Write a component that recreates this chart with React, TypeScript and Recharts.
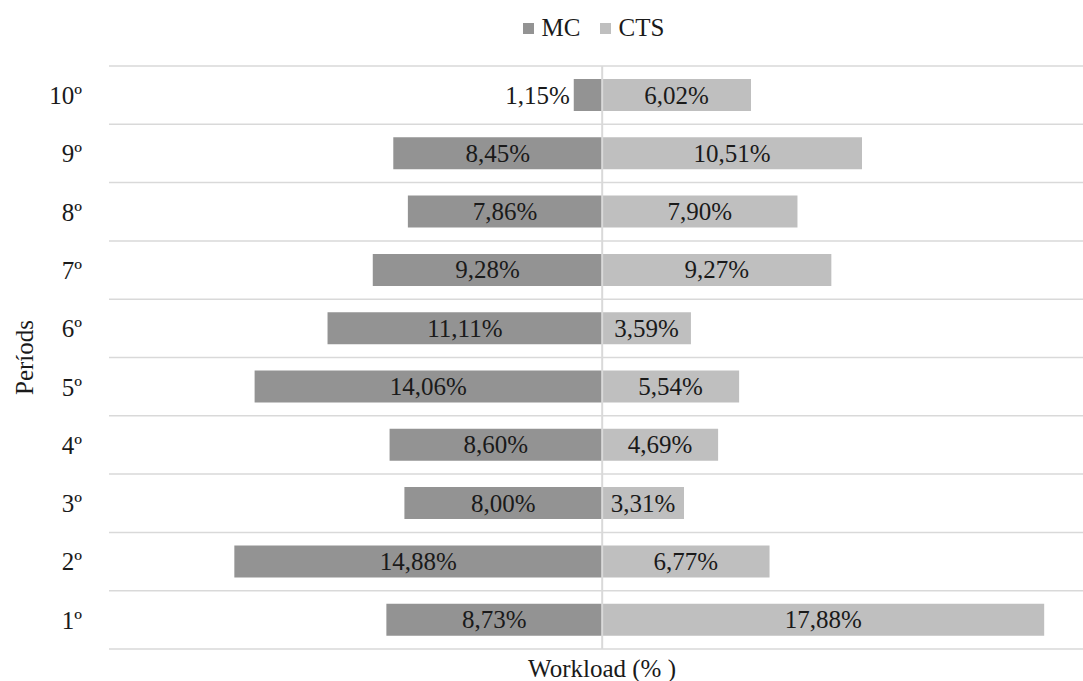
import {
  BarChart,
  Bar,
  XAxis,
  YAxis,
  CartesianGrid,
  Legend,
  LabelList,
  ReferenceLine,
  Label,
} from 'recharts';

const periods = ['1º', '2º', '3º', '4º', '5º', '6º', '7º', '8º', '9º', '10º'];
const mcWorkload = [8.73, 14.88, 8.0, 8.6, 14.06, 11.11, 9.28, 7.86, 8.45, 1.15];
const ctsWorkload = [17.88, 6.77, 3.31, 4.69, 5.54, 3.59, 9.27, 7.9, 10.51, 6.02];

const SERIES = [
  { key: 'mc', name: 'MC', color: '#939393' },
  { key: 'cts', name: 'CTS', color: '#bfbfbf' },
];

const FONT = '"Liberation Serif", "Times New Roman", serif';
const FONT_SIZE = 25;

const pct = (v: number) => v.toFixed(2).replace('.', ',') + '%';

// MC is drawn to the left of zero, CTS to the right
const rows = periods.map((period, i) => ({
  period,
  mc: -mcWorkload[i],
  cts: ctsWorkload[i],
  mcLabel: pct(mcWorkload[i]),
  ctsLabel: pct(ctsWorkload[i]),
}));

function BarValueLabel(props: any) {
  const { side, value } = props;
  const box = props.x != null ? props : props.viewBox;
  const { x, y, width, height } = box;
  const left = Math.min(x, x + width);
  const w = Math.abs(width);
  const cy = y + height / 2;
  const text = String(value);
  const approxWidth = text.length * 0.52 * FONT_SIZE;

  let tx = left + w / 2;
  let anchor: 'middle' | 'start' | 'end' = 'middle';
  if (approxWidth + 6 > w) {
    // too narrow, put the value just outside the bar end
    if (side === 'left') {
      tx = left - 4;
      anchor = 'end';
    } else {
      tx = left + w + 4;
      anchor = 'start';
    }
  }
  return (
    <text
      x={tx}
      y={cy}
      textAnchor={anchor}
      dominantBaseline="central"
      fontFamily={FONT}
      fontSize={FONT_SIZE}
      fill="#1a1a1a"
    >
      {text}
    </text>
  );
}

function LegendContent() {
  return (
    <div
      style={{
        height: 66,
        boxSizing: 'border-box',
        paddingTop: 14,
        paddingLeft: 104,
        display: 'flex',
        justifyContent: 'center',
        alignItems: 'flex-start',
        fontFamily: FONT,
        fontSize: FONT_SIZE,
        lineHeight: '28px',
        color: '#1a1a1a',
      }}
    >
      {SERIES.map((s, i) => (
        <span
          key={s.key}
          style={{ display: 'flex', alignItems: 'center', height: 28, marginLeft: i ? 19 : 0 }}
        >
          <span
            style={{ width: 11, height: 11, background: s.color, marginRight: 8, display: 'inline-block' }}
          />
          {s.name}
        </span>
      ))}
    </div>
  );
}

const bandLines = ({ offset }: any) =>
  Array.from(
    { length: periods.length + 1 },
    (_, i) => offset.top + (i * offset.height) / periods.length
  );

export default function App() {
  return (
    <div style={{ position: 'absolute', left: 0, top: 0, background: '#fff' }}>
      <BarChart
        width={1083}
        height={681}
        data={rows}
        layout="vertical"
        stackOffset="sign"
        margin={{ top: 0, right: 0, bottom: 0, left: 0 }}
      >
        <Legend
          verticalAlign="top"
          content={<LegendContent />}
          wrapperStyle={{ top: 0, left: 0, height: 66 }}
        />
        <CartesianGrid
          vertical={false}
          stroke="#d9d9d9"
          strokeWidth={1.5}
          horizontalCoordinatesGenerator={bandLines}
        />
        <XAxis
          type="number"
          domain={[-19.95, 19.45]}
          allowDataOverflow
          tick={false}
          axisLine={false}
          tickLine={false}
          height={32}
        >
          <Label
            content={({ viewBox }: any) => (
              <text
                x={602}
                y={viewBox.y + 28}
                textAnchor="middle"
                fontFamily={FONT}
                fontSize={FONT_SIZE}
                fill="#1a1a1a"
              >
                Workload (% )
              </text>
            )}
          />
        </XAxis>
        <YAxis
          type="category"
          dataKey="period"
          reversed
          width={109}
          axisLine={false}
          tickLine={false}
          tickSize={0}
          tickMargin={27}
          tick={{ fontFamily: FONT, fontSize: FONT_SIZE, fill: '#1a1a1a' }}
        >
          <Label
            content={({ viewBox }: any) => (
              <text
                x={24}
                y={viewBox.y + viewBox.height / 2}
                transform={`rotate(-90 24 ${viewBox.y + viewBox.height / 2})`}
                textAnchor="middle"
                dominantBaseline="central"
                fontFamily={FONT}
                fontSize={FONT_SIZE}
                fill="#1a1a1a"
              >
                Períods
              </text>
            )}
          />
        </YAxis>
        <Bar dataKey="mc" name="MC" stackId="w" fill="#939393" barSize={32} isAnimationActive={false}>
          <LabelList dataKey="mcLabel" content={(p: any) => <BarValueLabel {...p} side="left" />} />
        </Bar>
        <Bar dataKey="cts" name="CTS" stackId="w" fill="#bfbfbf" barSize={32} isAnimationActive={false}>
          <LabelList dataKey="ctsLabel" content={(p: any) => <BarValueLabel {...p} side="right" />} />
        </Bar>
        <ReferenceLine x={0} stroke="#d9d9d9" strokeWidth={2} />
      </BarChart>
    </div>
  );
}
